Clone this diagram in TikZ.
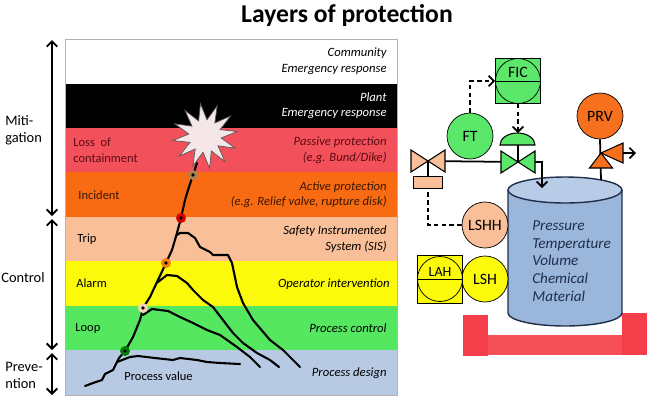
\documentclass[tikz,border=0pt]{standalone}
\usepackage{fontspec}
\setmainfont{Carlito}
\usepackage{xcolor}
\usepackage{tikz}
\usetikzlibrary{shapes,arrows,positioning,calc,arrows.meta}

\definecolor{bandred}{HTML}{F2505B}
\definecolor{bandorange}{HTML}{F86B12}
\definecolor{peach}{HTML}{F8BF98}
\definecolor{bandyellow}{HTML}{FAFA0A}
\definecolor{bandgreen}{HTML}{55E760}
\definecolor{bandblue}{HTML}{B8CAE3}
\definecolor{fgreen}{HTML}{5BE86A}
\definecolor{porange}{HTML}{F7701E}
\definecolor{tankbody}{HTML}{9AB6DB}
\definecolor{tanktop}{HTML}{B8CCE7}
\definecolor{tankline}{HTML}{1F2E4A}
\definecolor{standred}{HTML}{F5505A}
\definecolor{postred}{HTML}{F43F4A}
\definecolor{boom}{HTML}{F5E7E7}
\definecolor{darkred}{HTML}{5C0B12}
\definecolor{darkbrown}{HTML}{3B1700}

\begin{document}
\begin{tikzpicture}[x=0.02cm, y=-0.02cm, node distance=0pt,
    >={Straight Barb[length=3pt,width=6pt]},
    band/.style={rectangle, minimum width=6.64cm, minimum height=0.89cm, inner sep=0pt, outer sep=0pt},
    layertext/.style={anchor=east, align=right, inner sep=0pt, font=\fontsize{7.2}{9}\selectfont\itshape},
    cause/.style={anchor=west, align=left, inner sep=0pt, font=\fontsize{7.1}{8.6}\selectfont},
    side/.style={anchor=west, align=left, inner sep=0pt, font=\fontsize{8.2}{9.6}\selectfont},
    span/.style={<->, line width=1.1pt},
    crack/.style={line width=1.2pt, line join=round, line cap=round},
    event/.style={circle, minimum size=0.2cm, inner sep=0pt,
        path picture={\fill[black] (path picture bounding box.center) circle (1.1pt);}},
    instr/.style={circle, draw, minimum size=0.92cm, inner sep=0pt, font=\fontsize{9}{9}\selectfont},
    panel/.style={rectangle, draw, minimum size=0.9cm, inner sep=0pt,
        path picture={\draw (path picture bounding box.center) circle (0.45cm);
            \draw (path picture bounding box.west) -- (path picture bounding box.east);}},
    sigline/.style={->, line width=1pt, dash pattern=on 2.6pt off 1.8pt},
    pipe/.style={line width=1pt},
    valve/.style={draw, line width=0.6pt}
]
    \useasboundingbox (0,0) rectangle (650,400);

    % Title
    \node[font=\fontsize{14.6}{16}\selectfont\bfseries] (title) at (347,15) {Layers of protection};

    % Layers
    \node[band, fill=white] (community) at (231,61.25) {};
    \node[band, fill=black, below=of community] (plant) {};
    \node[band, fill=bandred, below=of plant] (passive) {};
    \node[band, fill=bandorange, below=of passive] (active) {};
    \node[band, fill=peach, below=of active] (sis) {};
    \node[band, fill=bandyellow, below=of sis] (operator) {};
    \node[band, fill=bandgreen, below=of operator] (control) {};
    \node[band, fill=bandblue, below=of control] (design) {};
    \draw[gray!60] (community.north west) rectangle (design.south east);

    \node[layertext] (tcommunity) at ([xshift=-0.2cm]community.east) {Community\\Emergency response};
    \node[layertext, text=white] (tplant) at ([xshift=-0.2cm]plant.east) {Plant\\Emergency response};
    \node[layertext, text=darkred] (tpassive) at ([xshift=-0.2cm]passive.east) {Passive protection\\(e.g. Bund/Dike)};
    \node[layertext, text=darkbrown] (tactive) at ([xshift=-0.2cm]active.east) {Active protection\\(e.g. Relief valve, rupture disk)};
    \node[layertext] (tsis) at ([xshift=-0.2cm]sis.east) {Safety Instrumented\\System (SIS)};
    \node[layertext] (toperator) at ([xshift=-0.14cm]operator.east) {Operator intervention};
    \node[layertext] (tcontrol) at ([xshift=-0.2cm]control.east) {Process control};
    \node[layertext] (tdesign) at ([xshift=-0.2cm]design.east) {Process design};

    \node[cause, text=darkred] (loss) at ([xshift=0.16cm]passive.west) {Loss\ \ of\\containment};
    \node[cause, text=darkbrown] (incident) at ([xshift=0.26cm]active.west) {Incident};
    \node[cause] (trip) at ([xshift=0.24cm]sis.west) {Trip};
    \node[cause] (alarm) at ([xshift=0.22cm]operator.west) {Alarm};
    \node[cause] (loop) at ([xshift=0.2cm]control.west) {Loop};
    \node[cause] (pvalue) at (124,376) {Process value};

    % Side arrows
    \coordinate (mtop) at (52,40);
    \coordinate (mbot) at (52,216);
    \coordinate (ctop) at (52,219);
    \coordinate (cbot) at (52,350);
    \coordinate (ptop) at (52,353);
    \coordinate (pbot) at (52,395);
    \draw[span] (mtop) -- (mbot);
    \draw[span] (ctop) -- (cbot);
    \draw[span] (ptop) -- (pbot);
    \node[side] (miti) at (5,130) {Miti-\\gation};
    \node[side] (ctrl) at (1,278) {Control};
    \node[side] (prev) at (5,375) {Preve-\\ntion};

    % Escalation
    \draw[crack] (85,386) -- (93,383) -- (102,380) -- (105,374) -- (113,370) -- (119,358) -- (125,351)
        -- (133,337) -- (140,320) -- (143,308) -- (150,297) -- (158,280) -- (166,263) -- (172,250)
        -- (177,233) -- (181,218) -- (185,200) -- (188,190) -- (193,175) -- (197,163);
    \draw[crack] (117,362) -- (130,357) -- (138,356) -- (155,358) -- (173,360) -- (180,358)
        -- (197,360) -- (207,362) -- (220,363) -- (240,364);
    \draw[crack] (143,315) -- (152,309) -- (168,311) -- (180,317) -- (193,323) -- (207,330)
        -- (220,335) -- (237,347) -- (250,357) -- (260,367);
    \draw[crack] (158,282) -- (167,275) -- (177,276) -- (187,283) -- (193,290) -- (203,300)
        -- (213,307) -- (223,320) -- (233,333) -- (243,343) -- (257,353) -- (270,360) -- (279,367);
    \draw[crack] (177,235) -- (180,233) -- (188,233) -- (195,238) -- (200,247) -- (210,252)
        -- (213,255) -- (228,255) -- (232,263) -- (237,287) -- (243,303) -- (253,320)
        -- (270,340) -- (283,350) -- (293,360) -- (300,367);
    \node[star, star points=12, star point ratio=2, minimum size=1.3cm, inner sep=0pt,
        draw=gray!70!black, fill=boom, rotate=8] (rupture) at (205,136) {};

    \node[event, fill=green!50!black] (eloop) at (125,351) {};
    \node[event, fill=peach!70!white] (ealarm) at (143,308) {};
    \node[event, fill=orange!80!brown] (etrip) at (166,263) {};
    \node[event, fill=red!85!black] (eincident) at (181,218) {};
    \node[event, fill=brown!70!gray] (eloss) at (193,175) {};

    % Stand and tank
    \fill[standred] (488,335) rectangle (622,355);
    \fill[postred] (463,315) rectangle (488,356);
    \fill[postred] (622,313) rectangle (647,355);
    \draw[tankline, line width=0.8pt, fill=tankbody] (508,190) -- (508,313)
        arc[start angle=180, end angle=360, x radius=1.14cm, y radius=0.26cm] -- (622,190);
    \draw[tankline, line width=0.8pt, fill=tanktop] (565,190) ellipse [x radius=1.14cm, y radius=0.26cm];
    \node[anchor=west, align=left, inner sep=0pt, text=tankline, font=\fontsize{8.6}{10.1}\selectfont\itshape] (contents)
        at (532,261) {Pressure\\Temperature\\Volume\\Chemical\\Material};

    % Instruments
    \node[instr, fill=fgreen] (FT) at (470,136) {FT};
    \node[panel, fill=fgreen] (FIC) at (518,81) {};
    \node[font=\fontsize{9}{9}\selectfont] (FICtag) at ([yshift=0.18cm]FIC.center) {FIC};
    \node[instr, fill=porange] (PRV) at (600,116) {PRV};
    \node[instr, fill=peach] (LSHH) at (485,225) {LSHH};
    \node[instr, fill=bandyellow] (LSH) at (485,279) {LSH};
    \node[panel, fill=bandyellow, minimum height=0.96cm] (LAH) at (440,279) {};
    \node[font=\fontsize{8}{8}\selectfont] (LAHtag) at ([yshift=0.14cm]LAH.center) {LAH};

    % Valves and lines
    \coordinate (vhand) at (428,161);
    \coordinate (vctrl) at (518,162);
    \coordinate (inlet) at (542,188);
    \coordinate (domebase) at (518,145);
    \coordinate (dome) at (518,133);
    \draw[pipe] (vhand) -- (vctrl);
    \draw[pipe, ->] (vctrl) -| (inlet);
    \draw[valve, fill=peach] (vhand) ++(-17,-11) -- ++(0,22) -- ++(34,-22) -- ++(0,22) -- cycle;
    \draw[valve, fill=fgreen] (vctrl) ++(-17,-11) -- ++(0,22) -- ++(34,-22) -- ++(0,22) -- cycle;
    \draw[valve, fill=fgreen] (500,145) arc[start angle=180, end angle=0, x radius=0.35cm, y radius=0.24cm] -- cycle;
    \draw[pipe] (domebase) -- (vctrl);
    \node[rectangle, draw, fill=peach, minimum width=0.58cm, minimum height=0.24cm, inner sep=0pt] (act) at (428,182) {};
    \draw[pipe] (act.north) -- (vhand);

    \draw[sigline] (FT.north) |- (FIC.west);
    \draw[sigline] (FIC.south) -- (dome);
    \draw[sigline, -] (LSHH.west) -| (act.south);

    % Relief valve
    \coordinate (relief) at (601,153);
    \coordinate (tanktop) at (601,180);
    \coordinate (ventbase) at (623,153);
    \coordinate (vent) at (636,153);
    \draw[pipe] (PRV.south) -- (tanktop);
    \draw[valve, fill=porange] (relief) -- ++(-11.5,15) -- ++(23,0) -- cycle;
    \draw[valve, fill=porange] (relief) -- ++(22,-10) -- ++(0,20) -- cycle;
    \draw[pipe, ->] (ventbase) -- (vent);
\end{tikzpicture}
\end{document}
